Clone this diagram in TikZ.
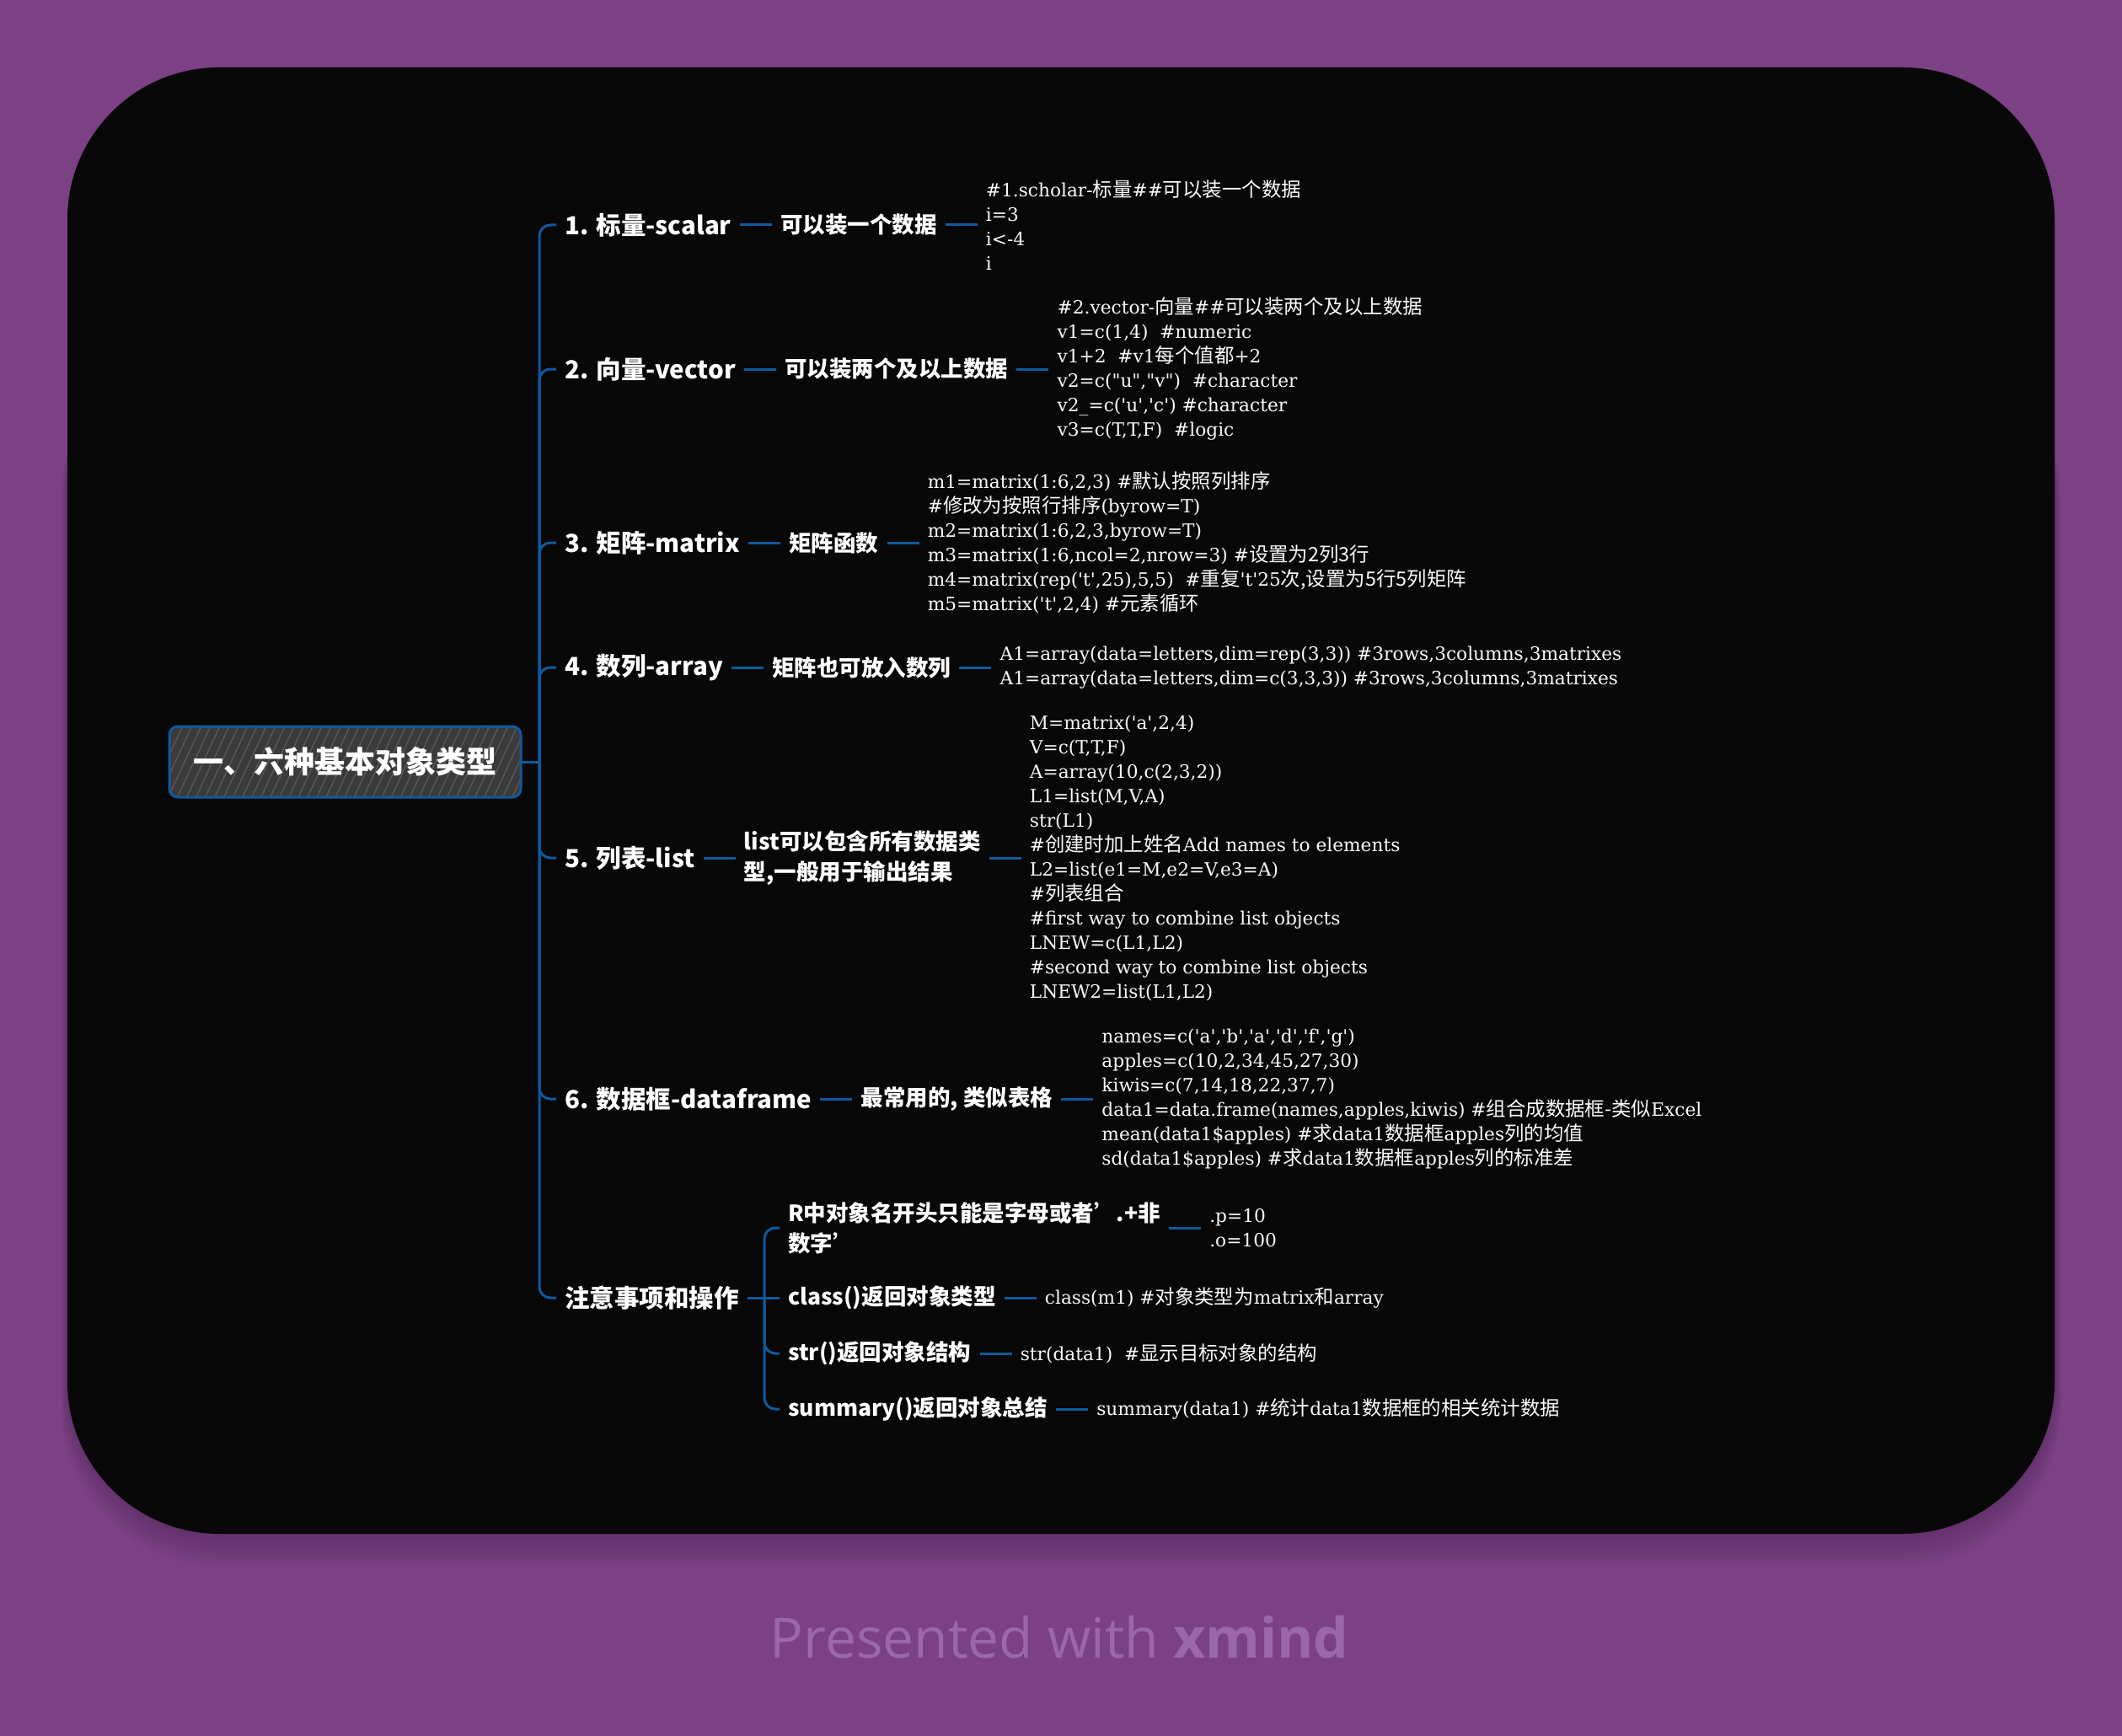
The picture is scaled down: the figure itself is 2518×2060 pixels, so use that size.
\documentclass[tikz,border=0pt]{standalone}
\usepackage{fontspec}
\usepackage{tikz}
\usetikzlibrary{positioning, patterns.meta}
\newfontfamily\cjk{Noto Sans CJK SC}
\newfontfamily\zhcode[Scale=1.08]{Noto Sans CJK SC}
\newfontfamily\codefont{DejaVu Serif}
\newfontfamily\brandfont{Open Sans}
\newcommand{\zh}[1]{{\zhcode #1}}
\definecolor{bgpurple}{HTML}{7B4184}
\definecolor{cardblack}{HTML}{080808}
\definecolor{linkblue}{HTML}{0F5A9E}
\definecolor{rootgray}{HTML}{3A3A3A}
\definecolor{hatchgray}{HTML}{5A5A5A}
\definecolor{brandtext}{HTML}{9A68A6}
\definecolor{codewhite}{HTML}{FAFAFA}
\tikzset{
  topic/.style={inner sep=0pt, inner xsep=10pt, text=white, align=left},
  rootnode/.style={
    rectangle, draw=linkblue, line width=3pt, rounded corners=10pt,
    minimum width=417pt, minimum height=84pt, text=white,
    font=\cjk\bfseries\fontsize{36}{42}\selectfont,
    preaction={fill=rootgray},
    pattern={Lines[angle=65, distance=10pt, line width=1.3pt]}, pattern color=hatchgray
  },
  mainnode/.style={topic, font=\cjk\bfseries\fontsize{29.5}{36}\selectfont},
  subnode/.style={topic, font=\cjk\bfseries\fontsize{26.5}{36}\selectfont},
  codenode/.style={topic, text=codewhite, font=\codefont\fontsize{21.7}{29}\selectfont},
  link/.style={draw=linkblue, line width=3pt},
  elbow/.style={link, rounded corners=13pt},
  brand/.style={font=\brandfont\fontsize{66}{70}\selectfont, text=brandtext}
}
\begin{document}
\begin{tikzpicture}[x=1pt, y=-1pt, node distance=38pt]
    \useasboundingbox (0,0) rectangle (2518,2060);
    \fill[bgpurple] (0,0) rectangle (2518,2060);
    % soft shadow under the card
    \foreach \k in {1,...,8}
      \fill[black, opacity=0.02, rounded corners=190pt] (80-\k,400) rectangle (2438+\k,1820+\k*5);
    \fill[cardblack, rounded corners=180pt] (80,80) rectangle (2438,1820);

    \node[rootnode] (root) at (409.5,904) {一、六种基本对象类型};
    \coordinate (hub) at (640,904);

    \node[mainnode, anchor=west] (t1) at (660,267) {1. 标量-scalar};
    \node[mainnode, anchor=west] (t2) at (660,438) {2. 向量-vector};
    \node[mainnode, anchor=west] (t3) at (660,644) {3. 矩阵-matrix};
    \node[mainnode, anchor=west] (t4) at (660,792) {4. 数列-array};
    \node[mainnode, anchor=west] (t5) at (660,1018) {5. 列表-list};
    \node[mainnode, anchor=west] (t6) at (660,1304) {6. 数据框-dataframe};
    \node[mainnode, anchor=west] (tn) at (660,1540) {注意事项和操作};

    \node[subnode, right=of t1] (s1) {可以装一个数据};
    \node[subnode, right=of t2] (s2) {可以装两个及以上数据};
    \node[subnode, right=of t3] (s3) {矩阵函数};
    \node[subnode, right=of t4] (s4) {矩阵也可放入数列};
    \node[subnode, right=of t5] (s5) {list可以包含所有数据类\\型,一般用于输出结果};
    \node[subnode, right=of t6] (s6) {最常用的, 类似表格};

    \node[codenode, right=of s1] (c1) {\#1.scholar-\zh{标量}\#\#\zh{可以装一个数据}\\i=3\\i<-4\\i};
    \node[codenode, right=of s2] (c2) {\#2.vector-\zh{向量}\#\#\zh{可以装两个及以上数据}\\
      v1=c(1,4)\ \ \#numeric\\
      v1+2\ \ \#v1\zh{每个值都}+2\\
      v2=c("u","v")\ \ \#character\\
      v2\_=c('u','c') \#character\\
      v3=c(T,T,F)\ \ \#logic};
    \node[codenode, right=of s3] (c3) {m1=matrix(1:6,2,3) \#\zh{默认按照列排序}\\
      \#\zh{修改为按照行排序}(byrow=T)\\
      m2=matrix(1:6,2,3,byrow=T)\\
      m3=matrix(1:6,ncol=2,nrow=3) \#\zh{设置为2列3行}\\
      m4=matrix(rep('t',25),5,5)\ \ \#\zh{重复}'t'25\zh{次,设置为5行5列矩阵}\\
      m5=matrix('t',2,4) \#\zh{元素循环}};
    \node[codenode, right=of s4] (c4) {A1=array(data=letters,dim=rep(3,3)) \#3rows,3columns,3matrixes\\
      A1=array(data=letters,dim=c(3,3,3)) \#3rows,3columns,3matrixes};
    \node[codenode, right=of s5] (c5) {M=matrix('a',2,4)\\
      V=c(T,T,F)\\
      A=array(10,c(2,3,2))\\
      L1=list(M,V,A)\\
      str(L1)\\
      \#\zh{创建时加上姓名}Add names to elements\\
      L2=list(e1=M,e2=V,e3=A)\\
      \#\zh{列表组合}\\
      \#first way to combine list objects\\
      LNEW=c(L1,L2)\\
      \#second way to combine list objects\\
      LNEW2=list(L1,L2)};
    \node[codenode, right=of s6] (c6) {names=c('a','b','a','d','f','g')\\
      apples=c(10,2,34,45,27,30)\\
      kiwis=c(7,14,18,22,37,7)\\
      data1=data.frame(names,apples,kiwis) \#\zh{组合成数据框-类似}Excel\\
      mean(data1\$apples) \#\zh{求}data1\zh{数据框}apples\zh{列的均值}\\
      sd(data1\$apples) \#\zh{求}data1\zh{数据框}apples\zh{列的标准差}};

    \coordinate (subhub) at (907,1540);
    \node[subnode, anchor=west] (n1) at (925,1457) {R中对象名开头只能是字母或者’.+非\\数字’};
    \node[subnode, anchor=west] (n2) at (925,1540) {class()返回对象类型};
    \node[subnode, anchor=west] (n3) at (925,1606) {str()返回对象结构};
    \node[subnode, anchor=west] (n4) at (925,1672) {summary()返回对象总结};

    \node[codenode, right=of n1] (d1) {.p=10\\.o=100};
    \node[codenode, right=of n2] (d2) {class(m1) \#\zh{对象类型为}matrix\zh{和}array};
    \node[codenode, right=of n3] (d3) {str(data1)\ \ \#\zh{显示目标对象的结构}};
    \node[codenode, right=of n4] (d4) {summary(data1) \#\zh{统计}data1\zh{数据框的相关统计数据}};

    \draw[link] (root.east) -- (hub);
    \foreach \t in {t1,t2,t3,t4,t5,t6,tn}
      \draw[elbow] (hub) |- (\t.west);
    \foreach \i in {1,...,6} {
      \draw[link] (t\i.east) -- (s\i.west);
      \draw[link] (s\i.east) -- (c\i.west);
    }
    \draw[link] (tn.east) -- (subhub);
    \draw[elbow] (subhub) |- (n1.west);
    \draw[link] (subhub) -- (n2.west);
    \draw[elbow] (subhub) |- (n3.west);
    \draw[elbow] (subhub) |- (n4.west);
    \foreach \i in {1,...,4}
      \draw[link] (n\i.east) -- (d\i.west);

    \node[brand] (mark) at (1257,1943) {Presented with {\bfseries xmind}};
\end{tikzpicture}
\end{document}
